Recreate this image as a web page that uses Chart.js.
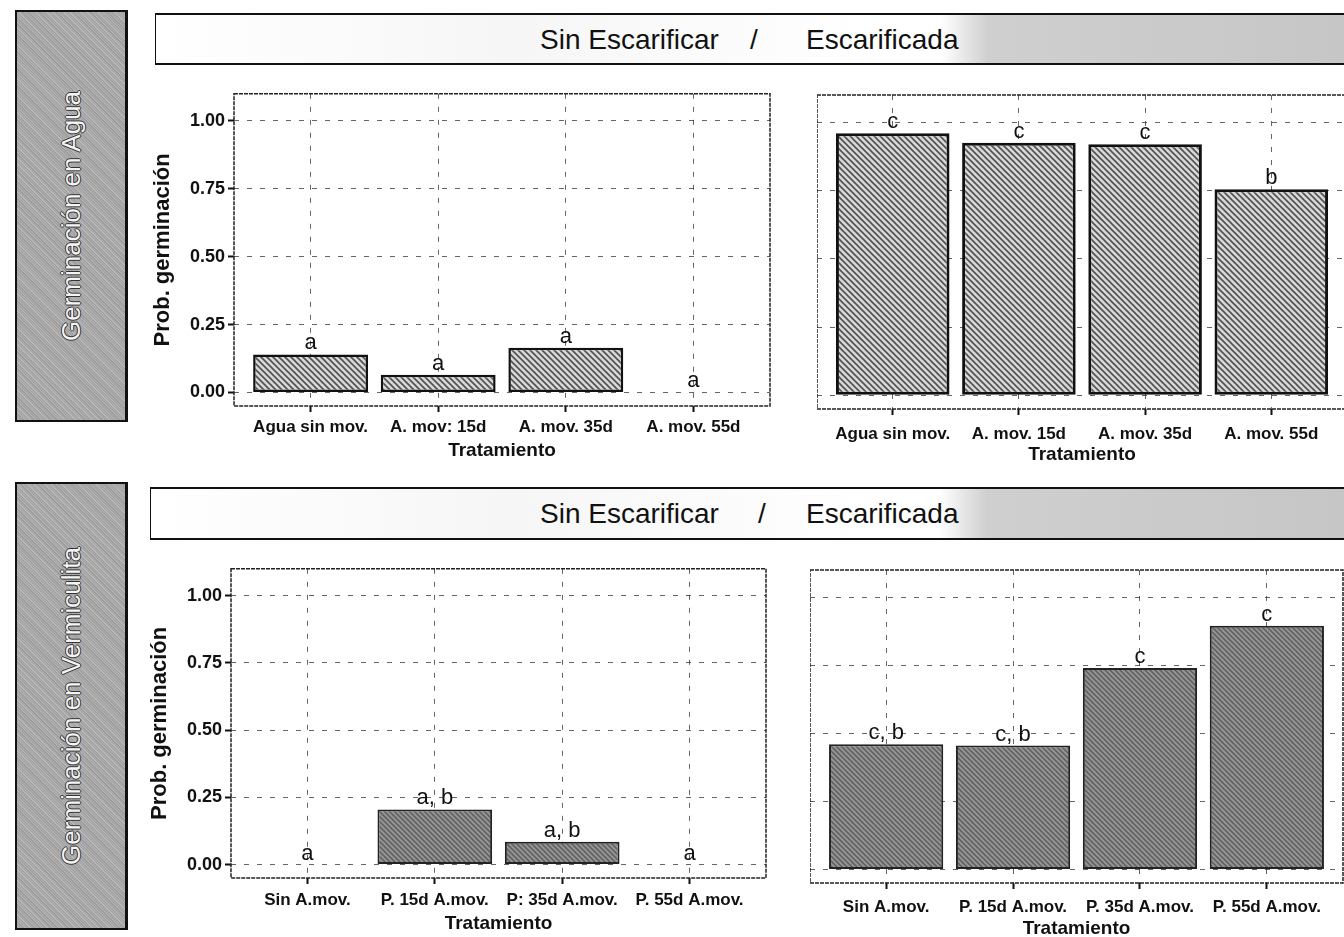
<!DOCTYPE html>
<html>
<head>
<meta charset="utf-8">
<script src="https://cdn.jsdelivr.net/npm/chart.js@4.4.0/dist/chart.umd.min.js"></script>
<style>
html, body { margin: 0; padding: 0; background: #fff; }
body { width: 1344px; height: 937px; overflow: hidden; position: relative; font-family: 'Liberation Sans', Arial, sans-serif; }
.side { position: absolute; left: 15px; width: 108px; border: 2px solid #111; border-right-width: 3px;
  background: repeating-linear-gradient(45deg, #9c9c9c 0 1px, #b8b8b8 1px 2px, #a3a3a3 2px 3px, #adadad 3px 4px); }
.side span { position: absolute; left: 50%; top: 50%; transform: translate(-50%, -50%) rotate(-90deg); white-space: nowrap;
  font-size: 26px; color: #f4f4f4; text-shadow: -1px 0 #333, 1px 0 #333, 0 1px #333, 0 -1px #333; }
.strip { position: absolute; border-top: 2px solid #111; border-bottom: 2px solid #111; border-left: 1px solid #111;
  background: linear-gradient(to right, #fff 0%, #f6f6f6 30%, #fff 60%, #fff 66%, #cfcfcf 70%, #c6c6c6 100%); }
.lbl { position: absolute; font-size: 28px; color: #111; white-space: nowrap; line-height: 1; }
.panel { position: absolute; }
</style>
</head>
<body>
<div class="side" style="top:10px;height:408px;"><span>Germinación en Agua</span></div>
<div class="side" style="top:482px;height:444px;"><span>Germinación en Vermiculita</span></div>

<div class="strip" style="left:155px;top:13px;width:1189px;height:48px;"></div>
<div class="lbl" style="left:540px;top:26px;">Sin Escarificar</div>
<div class="lbl" style="left:750px;top:26px;">/</div>
<div class="lbl" style="left:806px;top:26px;">Escarificada</div>

<div class="strip" style="left:150px;top:487px;width:1194px;height:49px;"></div>
<div class="lbl" style="left:540px;top:500px;">Sin Escarificar</div>
<div class="lbl" style="left:758px;top:500px;">/</div>
<div class="lbl" style="left:806px;top:500px;">Escarificada</div>

<canvas id="aguaSin" class="panel" width="632" height="386" style="left:146px;top:80px;"></canvas>
<canvas id="aguaEsc" class="panel" width="538" height="385" style="left:817px;top:85px;"></canvas>
<canvas id="vermSin" class="panel" width="631" height="384" style="left:143px;top:555px;"></canvas>
<canvas id="vermEsc" class="panel" width="541" height="384" style="left:810px;top:560px;"></canvas>

<script>
// categories
const catsAguaSin = ['Agua sin mov.', 'A. mov: 15d', 'A. mov. 35d', 'A. mov. 55d'];
const catsAguaEsc = ['Agua sin mov.', 'A. mov. 15d', 'A. mov. 35d', 'A. mov. 55d'];
const catsVermSin = ['Sin A.mov.', 'P. 15d A.mov.', 'P: 35d A.mov.', 'P. 55d A.mov.'];
const catsVermEsc = ['Sin A.mov.', 'P. 15d A.mov.', 'P. 35d A.mov.', 'P. 55d A.mov.'];

// germination probability per treatment
const aguaSinEsc = [0.14, 0.065, 0.165, 0];
const aguaEscar = [0.96, 0.925, 0.92, 0.755];
const vermSinEsc = [0, 0.205, 0.085, 0];
const vermEscar = [0.46, 0.455, 0.74, 0.895];

// significance letters
const lettersAguaSin = ['a', 'a', 'a', 'a'];
const lettersAguaEsc = ['c', 'c', 'c', 'b'];
const lettersVermSin = ['a', 'a, b', 'a, b', 'a'];
const lettersVermEsc = ['c, b', 'c, b', 'c', 'c'];

const yTicks = [0, 0.25, 0.5, 0.75, 1];

function hatch(bg, fg, size, lw) {
    const c = document.createElement('canvas');
    c.width = c.height = size;
    const g = c.getContext('2d');
    g.fillStyle = bg;
    g.fillRect(0, 0, size, size);
    g.strokeStyle = fg;
    g.lineWidth = lw;
    g.beginPath();
    g.moveTo(0, 0); g.lineTo(size, size);
    g.moveTo(-2, size - 2); g.lineTo(2, size + 2);
    g.moveTo(size - 2, -2); g.lineTo(size + 2, 2);
    g.stroke();
    return g.createPattern(c, 'repeat');
}

const frame = {
    id: 'frame',
    afterDatasetsDraw(chart) {
        const a = chart.chartArea, ctx = chart.ctx;
        ctx.save();
        ctx.strokeStyle = '#222';
        ctx.lineWidth = 1.5;
        ctx.setLineDash([4, 1]);
        ctx.strokeRect(a.left, a.top, a.right - a.left, a.bottom - a.top);
        ctx.restore();
    }
};

const barLetters = {
    id: 'barLetters',
    afterDatasetsDraw(chart) {
        const ctx = chart.ctx;
        const letters = chart.data.datasets[0].letters;
        ctx.save();
        ctx.font = '22px "Liberation Sans", Arial, sans-serif';
        ctx.fillStyle = '#111';
        ctx.textAlign = 'center';
        ctx.textBaseline = 'alphabetic';
        chart.getDatasetMeta(0).data.forEach(function (bar, i) {
            ctx.fillText(letters[i], bar.x, bar.y - 5);
        });
        ctx.restore();
    }
};

function makePanel(id, cats, vals, letters, fill, g) {
    const ctx = document.getElementById(id).getContext('2d');
    return new Chart(ctx, {
        type: 'bar',
        data: {
            datasets: [{
                data: vals.map((v, i) => ({ x: i, y: v })),
                letters: letters,
                backgroundColor: fill,
                borderColor: g.bc,
                borderWidth: c => (c.raw && c.raw.y > 0 ? g.bw : 0),
                borderSkipped: false,
                barPercentage: 0.9,
                categoryPercentage: 1
            }]
        },
        options: {
            responsive: false,
            animation: false,
            layout: { padding: { top: 10, right: 8, left: 0, bottom: 0 } },
            plugins: { legend: { display: false }, tooltip: { enabled: false } },
            scales: {
                x: {
                    type: 'linear',
                    offset: false,
                    min: -0.6,
                    max: 3.6,
                    afterBuildTicks: s => { s.ticks = cats.map((c, i) => ({ value: i })); },
                    afterFit: s => { s.height = g.xH; },
                    ticks: {
                        callback: v => cats[v],
                        font: { size: 17, weight: 'bold', family: 'Liberation Sans' },
                        color: '#111',
                        padding: g.xPad,
                        maxRotation: 0,
                        autoSkip: false
                    },
                    grid: { offset: false, color: 'rgba(50,50,50,0.75)', lineWidth: 1, tickLength: 6, tickColor: '#111', tickWidth: 2 },
                    border: { display: false, dash: [5, 8] },
                    title: {
                        display: true,
                        text: 'Tratamiento',
                        font: { size: 19, weight: 'bold', family: 'Liberation Sans' },
                        color: '#111',
                        padding: { top: 0, bottom: 4 }
                    }
                },
                y: {
                    min: -0.05,
                    max: 1.1,
                    afterBuildTicks: s => { s.ticks = yTicks.map(v => ({ value: v })); },
                    afterFit: s => { s.width = g.yW; },
                    ticks: {
                        display: g.showY,
                        callback: v => v.toFixed(2),
                        font: { size: 18, weight: 'bold', family: 'Liberation Sans' },
                        color: '#111',
                        padding: 3
                    },
                    grid: { color: 'rgba(50,50,50,0.75)', lineWidth: 1, drawTicks: g.showY, tickLength: 6, tickColor: '#111', tickWidth: 2 },
                    border: { display: false, dash: [5, 8] },
                    title: {
                        display: g.showY,
                        text: 'Prob. germinación',
                        font: { size: 22, weight: 'bold', family: 'Liberation Sans' },
                        color: '#111',
                        padding: { top: 4, bottom: 4 }
                    }
                }
            }
        },
        plugins: [frame, barLetters]
    });
}

const lightFill = hatch('#d8d8d8', '#505050', 6, 1.6);
const darkFill = hatch('#939393', '#5c5c5c', 5, 1.4);

makePanel('aguaSin', catsAguaSin, aguaSinEsc, lettersAguaSin, lightFill,
    { yW: 88, xH: 60, xPad: 5, showY: true, bc: '#111', bw: 2.5 });
makePanel('aguaEsc', catsAguaEsc, aguaEscar, lettersAguaEsc, lightFill,
    { yW: 0, xH: 61, xPad: 9, showY: false, bc: '#111', bw: 3 });
makePanel('vermSin', catsVermSin, vermSinEsc, lettersVermSin, darkFill,
    { yW: 88, xH: 61, xPad: 6, showY: true, bc: '#222', bw: 2 });
makePanel('vermEsc', catsVermEsc, vermEscar, lettersVermEsc, darkFill,
    { yW: 0, xH: 61, xPad: 8, showY: false, bc: '#222', bw: 2 });
</script>
</body>
</html>
